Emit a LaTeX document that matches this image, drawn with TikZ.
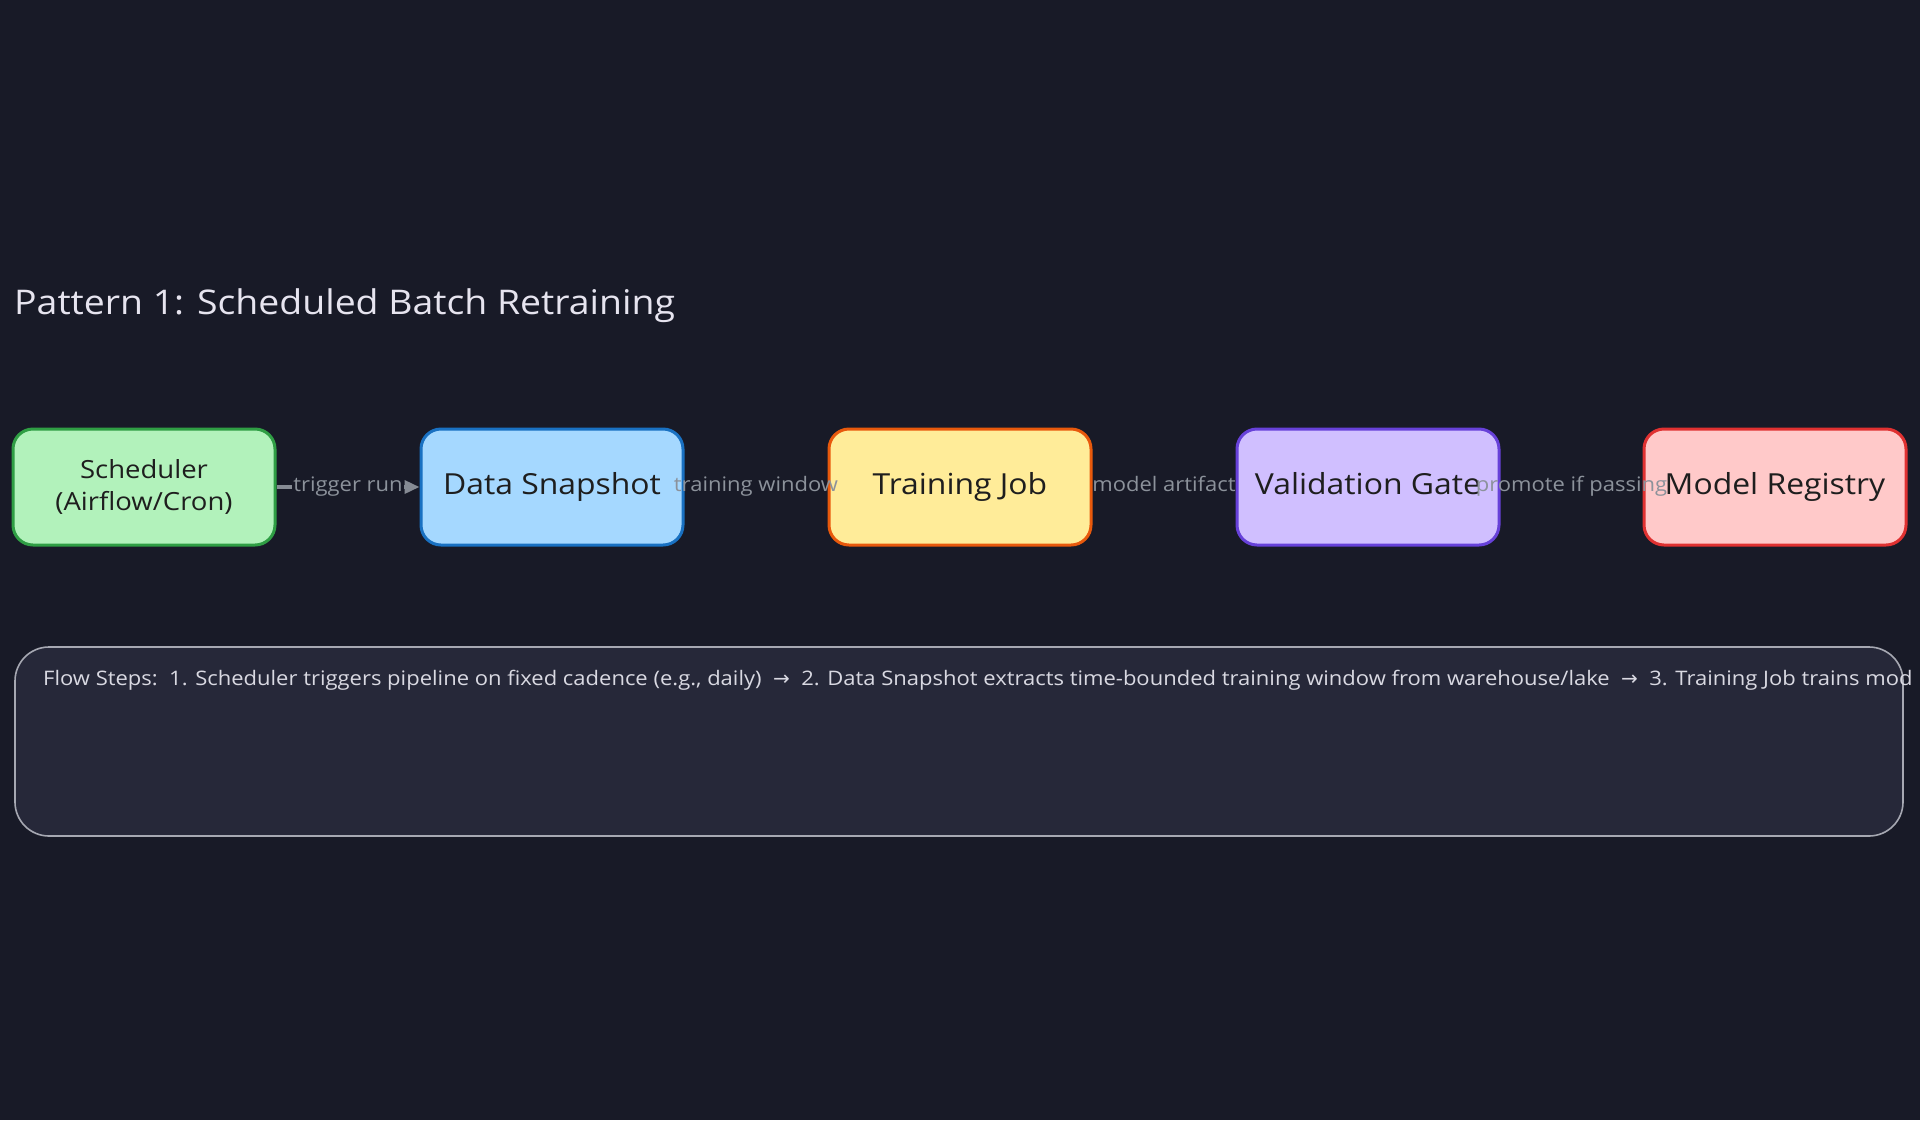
\documentclass[tikz,border=0pt]{standalone}
\usepackage{fontspec}
\setmainfont[FakeStretch=1.1]{Open Sans}
\newfontfamily\symfont{DejaVu Sans}
\usetikzlibrary{arrows.meta,calc}
\pgfdeclarelayer{bgl}
\pgfdeclarelayer{fgl}
\pgfsetlayers{bgl,main,fgl}
\definecolor{bg}{HTML}{181A27}
\definecolor{titlec}{HTML}{E6E4EF}
\definecolor{ink}{HTML}{1E1E1E}
\definecolor{arrowc}{HTML}{868B94}
\definecolor{lblc}{HTML}{8C929B}
\definecolor{panelfill}{HTML}{262839}
\definecolor{panelline}{HTML}{A6A8B2}
\definecolor{flowc}{HTML}{D9D9E2}
\definecolor{gfill}{HTML}{B2F2BB}\definecolor{gline}{HTML}{2F9E44}
\definecolor{bfill}{HTML}{A5D8FF}\definecolor{bline}{HTML}{1971C2}
\definecolor{yfill}{HTML}{FFEC99}\definecolor{yline}{HTML}{E8590C}
\definecolor{vfill}{HTML}{D0BFFF}\definecolor{vline}{HTML}{6741D9}
\definecolor{rfill}{HTML}{FFC9C9}\definecolor{rline}{HTML}{E03131}
\begin{document}
\begin{tikzpicture}[x=1pt,y=-1pt,
  box/.style={draw, line width=3pt, rounded corners=20pt, minimum width=262pt,
    minimum height=116pt, inner sep=0pt, align=center, text=ink,
    font=\fontsize{29}{34}\selectfont},
  onebox/.style={box, text height=21pt, text depth=7pt},
  lbl/.style={text=lblc, inner sep=1pt, text height=14pt, text depth=5pt,
    font=\fontsize{20}{24}\selectfont},
  arr/.style={draw=arrowc, line width=3.5pt,
    -{Triangle[length=15pt,width=13pt,fill=arrowc]}},
]
\begin{pgfonlayer}{bgl}
\fill[bg] (0,0) rectangle (1920,1120);
\end{pgfonlayer}
\useasboundingbox (0,0) rectangle (1920,1120);

\node[anchor=west, text=titlec, inner sep=0pt, font=\fontsize{34}{40}\selectfont] (title) at (14,306) {Pattern 1: Scheduled Batch Retraining};

\node[box, fill=gfill, draw=gline, font=\fontsize{25}{32}\selectfont] (sched) at (144,487) {Scheduler\\(Airflow/Cron)};
\node[onebox, fill=bfill, draw=bline] (snap) at (552,487) {Data Snapshot};
\node[onebox, fill=yfill, draw=yline] (train) at (960,487) {Training Job};
\node[onebox, fill=vfill, draw=vline] (gate) at (1368,487) {Validation Gate};
\node[onebox, fill=rfill, draw=rline] (reg) at (1775,487) {Model Registry};

\begin{pgfonlayer}{fgl}
\node[lbl] (l1) at ($(sched.east)!0.5!(snap.west)$) {trigger run};
\node[lbl] (l2) at ($(snap.east)!0.5!(train.west)$) {training window};
\node[lbl] (l3) at ($(train.east)!0.5!(gate.west)$) {model artifact};
\node[lbl] (l4) at ($(gate.east)!0.5!(reg.west)$) {promote if passing};
\end{pgfonlayer}

\begin{pgfonlayer}{bgl}
\draw[arr] (sched.east) -- (snap.west);
\draw[arr] (snap.east) -- (train.west);
\draw[arr] (train.east) -- (gate.west);
\draw[arr] (gate.east) -- (reg.west);
\foreach \l in {l1,l2,l3,l4} {
  \fill[bg] (\l.south west) rectangle (\l.north east);
}
\end{pgfonlayer}

\node[draw=panelline, fill=panelfill, line width=1.6pt, rounded corners=34pt,
  minimum width=1888pt, minimum height=189pt, inner sep=0pt] (panel) at (959,741.5) {};
\node[anchor=west, text=flowc, inner sep=0pt, font=\fontsize{20}{24}\selectfont] (flow) at (43,680)
  {Flow Steps:\ \ 1. Scheduler triggers pipeline on fixed cadence (e.g., daily)\ \ {\symfont →}\ \ 2. Data Snapshot extracts time-bounded training window from warehouse/lake\ \ {\symfont →}\ \ 3. Training Job trains mod};
\end{tikzpicture}
\end{document}
